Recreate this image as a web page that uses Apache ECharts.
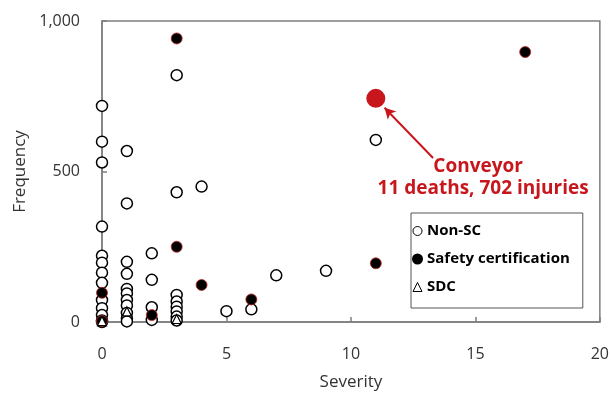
<!DOCTYPE html>
<html>
<head>
<meta charset="utf-8">
<script src="https://cdn.jsdelivr.net/npm/echarts@6/dist/echarts.min.js"></script>
<style>html,body{margin:0;padding:0;background:#fff}#c{width:612px;height:397px}</style>
</head>
<body>
<div id="c"></div>
<script>
// Non-SC points [severity, frequency]
var nonSC = [
  [0,718],[0,599],[0,530],[0,317],[0,220],[0,197],[0,164],[0,130],[0,73],[0,46],[0,23],[0,5],[0,0],
  [1,568],[1,394],[1,200],[1,160],[1,110],[1,95],[1,73],[1,55],[1,30],[1,12],[1,2],
  [2,228],[2,140],[2,49],[2,7],
  [3,820],[3,431],[3,90],[3,68],[3,51],[3,35],[3,18],[3,5],
  [4,450],[5,36],[6,42],[7,155],[9,170],[11,605]
];
// Safety certification points
var safetyCert = [
  [0,97],[0,3],[2,23],[3,942],[3,250],[4,123],[6,75],[11,195],[17,897]
];
// SDC points
var sdc = [[0,3],[1,35],[3,10]];
// Highlighted conveyor case
var conveyor = [[11,743]];
var arrowFrom = [13.3,545];
var arrowTo = [11.35,712];
var xTicks = [0,5,10,15,20];
var yTicks = [0,500,1000];

var chart = echarts.init(document.getElementById('c'));
var font = '"Open Sans", "Noto Sans", sans-serif';
var axisColor = '#7f7f7f';
chart.setOption({
  animation: false,
  grid: {left:102, right:12, top:21, bottom:75, show:true, borderColor:axisColor, borderWidth:1.5},
  xAxis: {
    type:'value', min:xTicks[0], max:xTicks[xTicks.length-1], interval:5,
    name:'Severity', nameLocation:'middle', nameGap:52,
    nameTextStyle:{fontFamily:font, fontSize:17, color:'#333'},
    axisLine:{lineStyle:{color:axisColor, width:1.5}},
    axisTick:{inside:true, length:5, lineStyle:{color:axisColor, width:1.5}},
    axisLabel:{fontFamily:font, fontSize:16, color:'#333', margin:24},
    splitLine:{show:false}
  },
  yAxis: {
    type:'value', min:yTicks[0], max:yTicks[yTicks.length-1], interval:500,
    name:'Frequency', nameLocation:'middle', nameGap:73,
    nameTextStyle:{fontFamily:font, fontSize:17, color:'#333'},
    axisLine:{lineStyle:{color:axisColor, width:1.5}},
    axisTick:{inside:true, length:5, lineStyle:{color:axisColor, width:1.5}},
    axisLabel:{fontFamily:font, fontSize:16, color:'#333', margin:22,
      formatter:function(v){return v.toLocaleString('en-US');}},
    splitLine:{show:false}
  },
  legend: {
    orient:'vertical', left:411, top:213,
    data:[
      {name:'Non-SC', icon:'circle', itemStyle:{borderWidth:1}},
      {name:'Safety certification', icon:'circle', itemStyle:{borderColor:'#000'}},
      {name:'SDC', icon:'triangle', itemStyle:{borderWidth:1}}
    ],
    backgroundColor:'#fff', borderColor:'#555', borderWidth:1,
    padding:[9,13,12,1], itemGap:10, itemWidth:9, itemHeight:9,
    textStyle:{fontFamily:font, fontSize:15, fontWeight:'bold', color:'#000', lineHeight:18}
  },
  series: [
    {name:'Non-SC', type:'scatter', data:nonSC, symbol:'circle', symbolSize:11,
      itemStyle:{color:'#fff', borderColor:'#000', borderWidth:1.5, opacity:1}},
    {name:'Safety certification', type:'scatter', data:safetyCert, symbol:'circle', symbolSize:11,
      itemStyle:{color:'#000', borderColor:'rgba(190,40,40,0.8)', borderWidth:1, opacity:1}},
    {name:'SDC', type:'scatter', data:sdc, symbol:'triangle', symbolSize:9,
      itemStyle:{color:'#fff', borderColor:'#000', borderWidth:1.2, opacity:1}},
    {name:'Conveyor', type:'scatter', data:conveyor, symbol:'circle', symbolSize:19,
      itemStyle:{color:'#c8161d', opacity:1}, z:5,
      markLine:{
        silent:true, symbol:['none','arrow'], symbolSize:[9,11],
        lineStyle:{color:'#c8161d', width:2, type:'solid', opacity:1},
        label:{show:false},
        data:[[{coord:arrowFrom},{coord:arrowTo}]]
      }}
  ]
});
var p = chart.convertToPixel({gridIndex:0}, arrowFrom);
chart.setOption({graphic:[
  {type:'text', x:p[0]+45, y:p[1]+9, z:10, style:{text:'Conveyor', fill:'#c8161d', font:'bold 19px ' + font, textAlign:'center', textVerticalAlign:'middle'}},
  {type:'text', x:p[0]+50, y:p[1]+31, z:10, style:{text:'11 deaths, 702 injuries', fill:'#c8161d', font:'bold 19px ' + font, textAlign:'center', textVerticalAlign:'middle'}}
]});
</script>
</body>
</html>
